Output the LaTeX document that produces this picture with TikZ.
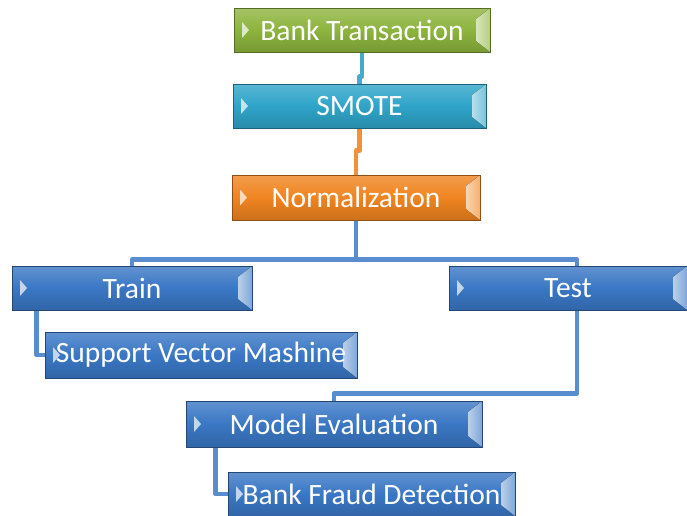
\documentclass[tikz,border=0pt]{standalone}
\usepackage{fontspec}
\setmainfont{Carlito}
\usetikzlibrary{backgrounds}
\definecolor{leafgreen}{HTML}{8DB43E}
\definecolor{smotecyan}{HTML}{2FA4C8}
\definecolor{normorange}{HTML}{F08420}
\definecolor{stepblue}{HTML}{3A77C4}
\definecolor{linkblue}{HTML}{5A8DD0}
\definecolor{linkcyan}{HTML}{45AACB}
\definecolor{linkorange}{HTML}{F3913A}
\tikzset{
  stage/.style={draw=#1!60!black, line width=0.8pt,
    top color=#1!80!white, bottom color=#1!85!black, middle color=#1,
    text=white, inner sep=0pt, font=\fontsize{29.5}{34}\selectfont,
    path picture={
      \fill[#1!30!white] ([xshift=8pt,yshift=8pt]path picture bounding box.west)
        -- ++(7pt,-8pt) -- ++(-7pt,-8pt) -- cycle;
      \fill[left color=#1!35!white, right color=#1!65!white]
        (path picture bounding box.north east)
        -- ([xshift=-14pt,yshift=-11pt]path picture bounding box.north east)
        -- ([xshift=-14pt,yshift=11pt]path picture bounding box.south east)
        -- (path picture bounding box.south east) -- cycle;
    }},
  link/.style={line width=4.5pt, draw=#1, line join=round}
}
\begin{document}
\begin{tikzpicture}[x=1pt, y=-1pt]
  \useasboundingbox (0,0) rectangle (687,515);

  \node[stage=leafgreen, minimum width=256pt, minimum height=44pt] (bank) at (362,30) {Bank Transaction};
  \node[stage=smotecyan, minimum width=253pt, minimum height=44pt] (smote) at (359.5,106) {SMOTE};
  \node[stage=normorange, minimum width=248pt, minimum height=45pt] (norm) at (356,197.5) {Normalization};
  \node[stage=stepblue, minimum width=240pt, minimum height=44pt] (train) at (132,288) {Train};
  \node[stage=stepblue, minimum width=238pt, minimum height=44pt] (test) at (568,288) {Test};
  \node[stage=stepblue, minimum width=312pt, minimum height=46pt] (svm) at (201,355) {Support Vector Mashine};
  \node[stage=stepblue, minimum width=296pt, minimum height=46pt] (eval) at (334,424) {Model Evaluation};
  \node[stage=stepblue, minimum width=287pt, minimum height=44pt] (fraud) at (371.5,494) {Bank Fraud Detection};

  % connectors behind the boxes
  \begin{scope}[on background layer]
    \draw[link=linkcyan] (bank.south) -- ++(0,24) -| (smote.north);
    \draw[link=linkorange] (smote.south) -- ++(0,22) -| (norm.north);
    \draw[link=linkblue] (norm.south) -- ++(0,39) coordinate (split) -| (train.north);
    \draw[link=linkblue] (split) -| ([xshift=9pt]test.south) -- ++(0,83) -| (eval.north);
    \draw[link=linkblue] ([xshift=25pt]train.south west) |- (svm.west);
    \draw[link=linkblue] ([xshift=30pt]eval.south west) |- (fraud.west);
  \end{scope}
\end{tikzpicture}
\end{document}
